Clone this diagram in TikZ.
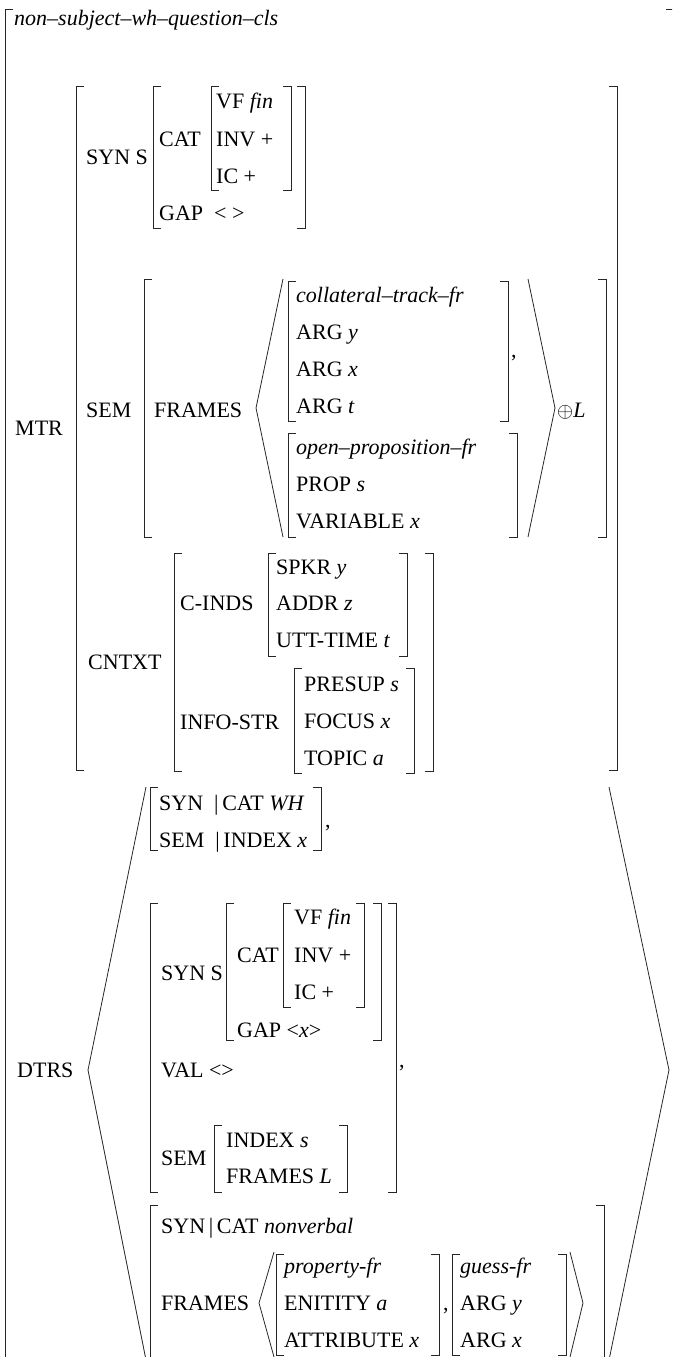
\documentclass[tikz,border=0pt]{standalone}
\usepackage{fontspec}
\setmainfont{Liberation Serif}

\newcommand{\lbrk}[3]{\draw[brk] ({#1+8},#2) -- (#1,#2) -- (#1,#3) -- ({#1+8},#3);}
\newcommand{\rbrk}[3]{\draw[brk] ({#1-8},#2) -- (#1,#2) -- (#1,#3) -- ({#1-8},#3);}
\newcommand{\avmbox}[4]{\lbrk{#1}{#3}{#4}\rbrk{#2}{#3}{#4}}

\begin{document}
\begin{tikzpicture}[
        x=1pt, y=-1pt,
        feat/.style={anchor=west, inner sep=0pt, text height=14.5pt, text depth=0pt, font=\fontsize{22}{26}\selectfont},
        sep/.style={anchor=base west, inner sep=0pt, font=\fontsize{22}{26}\selectfont},
        brk/.style={line width=0.8pt, black!85},
    ]
        \useasboundingbox (0,0) rectangle (672,1357);
        \clip (0,0) rectangle (672,1357);

        \avmbox{5}{674}{9}{1400}
        \node[feat] (type) at (14,18) {\textit{non--subject--wh--question--cls}};

        \node[feat] (mtr) at (15,428) {MTR};
        \avmbox{76}{617}{86}{770}

        \node[feat] (syn) at (86,157) {SYN S};
        \avmbox{153}{305}{86}{228}
        \node[feat] (cat) at (159,139) {CAT};
        \avmbox{211}{291}{86}{190}
        \node[feat] (vf) at (216,101) {VF \textit{fin}};
        \node[feat] (inv) at (216,139) {INV +};
        \node[feat] (ic) at (216,176) {IC +};
        \node[feat] (gap) at (159,213) {GAP \ < >};

        \node[feat] (sem) at (86,410) {SEM};
        \avmbox{144}{606}{279}{537}
        \node[feat] (frames) at (154,410) {FRAMES};
        \draw[brk] (283,279) -- (256,408) -- (283,537);
        \draw[brk] (528,279) -- (555,408) -- (528,537);
        \avmbox{288}{508}{281}{421}
        \node[feat] (colfr) at (296,295) {\textit{collateral--track--fr}};
        \node[feat] (argy) at (296,332) {ARG \textit{y}};
        \node[feat] (argx) at (296,369) {ARG \textit{x}};
        \node[feat] (argt) at (296,406) {ARG \textit{t}};
        \node[sep] (c1) at (511,357) {,};
        \avmbox{288}{517}{433}{537}
        \node[feat] (openfr) at (296,447) {\textit{open--proposition--fr}};
        \node[feat] (prop) at (296,484) {PROP \textit{s}};
        \node[feat] (var) at (296,521) {VARIABLE \textit{x}};
        \node[feat] (app) at (557,410) {$\oplus$\textit{L}};

        \node[feat] (cntxt) at (88,662) {CNTXT};
        \avmbox{174}{433}{553}{771}
        \node[feat] (cinds) at (180,603) {C-INDS};
        \avmbox{268}{407}{553}{656}
        \node[feat] (spkr) at (276,567) {SPKR \textit{y}};
        \node[feat] (addr) at (276,603) {ADDR \textit{z}};
        \node[feat] (utt) at (276,640) {UTT-TIME \textit{t}};
        \node[feat] (info) at (180,722) {INFO-STR};
        \avmbox{294}{414}{668}{773}
        \node[feat] (presup) at (304,684) {PRESUP \textit{s}};
        \node[feat] (focus) at (304,721) {FOCUS \textit{x}};
        \node[feat] (topic) at (304,758) {TOPIC \textit{a}};

        \node[feat] (dtrs) at (17,1070) {DTRS};
        \draw[brk] (146,787) -- (88,1070) -- (146,1360);
        \draw[brk] (609,787) -- (669,1070) -- (609,1360);

        \avmbox{150}{321}{787}{850}
        \node[feat] (whsyn) at (159,803) {SYN\enspace|\,CAT \textit{WH}};
        \node[feat] (whsem) at (159,840) {SEM\enspace|\,INDEX \textit{x}};
        \node[sep] (c2) at (325,827) {,};

        \avmbox{150}{396}{903}{1192}
        \node[sep] (c3) at (399,1067) {,};
        \node[feat] (hsyn) at (161,973) {SYN S};
        \avmbox{226}{381}{903}{1040}
        \node[feat] (hcat) at (237,955) {CAT};
        \avmbox{283}{364}{903}{1007}
        \node[feat] (hvf) at (294,917) {VF \textit{fin}};
        \node[feat] (hinv) at (294,955) {INV +};
        \node[feat] (hic) at (294,992) {IC +};
        \node[feat] (hgap) at (237,1030) {GAP <\textit{x}>};
        \node[feat] (hval) at (161,1070) {VAL <>};
        \node[feat] (hsem) at (161,1158) {SEM};
        \avmbox{214}{347}{1125}{1192}
        \node[feat] (hindex) at (226,1140) {INDEX \textit{s}};
        \node[feat] (hframes) at (226,1176) {FRAMES \textit{L}};

        \avmbox{150}{604}{1205}{1400}
        \node[feat] (nvsyn) at (161,1226) {SYN\,|\,CAT \textit{nonverbal}};
        \node[feat] (nvframes) at (161,1303) {FRAMES};
        \draw[brk] (274,1252) -- (259,1303) -- (274,1357);
        \draw[brk] (570,1252) -- (583,1303) -- (570,1357);
        \avmbox{276}{439}{1254}{1355}
        \node[feat] (propfr) at (284,1266) {\textit{property-fr}};
        \node[feat] (ent) at (284,1303) {ENITITY \textit{a}};
        \node[feat] (attr) at (284,1340) {ATTRIBUTE \textit{x}};
        \node[sep] (c4) at (443,1310) {,};
        \avmbox{452}{566}{1254}{1355}
        \node[feat] (guess) at (460,1266) {\textit{guess-fr}};
        \node[feat] (gargy) at (460,1303) {ARG \textit{y}};
        \node[feat] (gargx) at (460,1340) {ARG \textit{x}};
    \end{tikzpicture}
\end{document}
